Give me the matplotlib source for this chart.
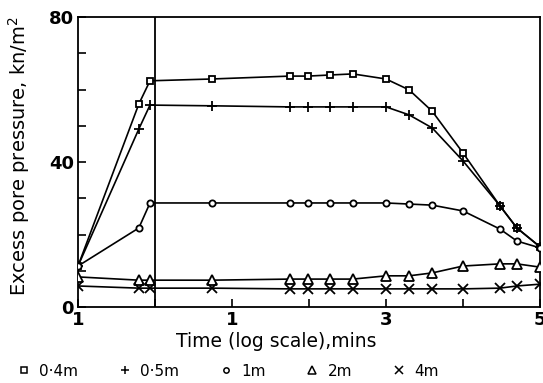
import matplotlib
matplotlib.use("Agg")
import matplotlib.pyplot as plt
from matplotlib.lines import Line2D

# x positions on the drawn time axis (0 = "1", 1 = divider, 2 = "1", 4 = "3", 6 = "5")
t_pos = [0, 0.79, 0.935, 1.74, 2.75, 2.99, 3.27, 3.57, 4.0, 4.30, 4.60, 5.0, 5.48, 5.70, 6.0]

p_04m = [11.3, 56.0, 62.4, 62.9, 63.7, 63.7, 64.0, 64.3, 62.9, 59.9, 54.0, 42.5, 27.9, 21.8, 16.6]
p_05m = [11.3, 49.1, 55.7, 55.5, 55.2, 55.2, 55.2, 55.2, 55.2, 53.0, 49.4, 40.3, 27.9, 21.8, 16.6]
p_1m = [11.3, 21.8, 28.7, 28.7, 28.7, 28.7, 28.7, 28.7, 28.7, 28.4, 28.1, 26.5, 21.5, 18.2, 16.3]
p_2m = [8.3, 7.4, 7.4, 7.4, 7.7, 7.7, 7.7, 7.7, 8.6, 8.6, 9.4, 11.3, 11.9, 11.9, 11.0]
p_4m = [5.8, 5.2, 5.2, 5.2, 5.0, 5.0, 5.0, 5.0, 5.0, 5.0, 5.0, 5.0, 5.2, 5.8, 6.3]

labels = ["0·4m", "0·5m", "1m", "2m", "4m"]
markers = ["s", "+", "o", "^", "x"]
msizes = [5, 7, 4.5, 7, 6.5]
series = [p_04m, p_05m, p_1m, p_2m, p_4m]

xtick_pos = [0, 2, 4, 6]
xtick_lab = ["1", "1", "3", "5"]

fig = plt.figure(figsize=(5.43, 3.83), dpi=100)
ax = fig.add_axes([78 / 543, 1 - 307 / 383, 462 / 543, 290 / 383])

for y, m, ms in zip(series, markers, msizes):
    ax.plot(t_pos, y, color="black", lw=1.2, marker=m, ms=ms,
            mfc="white", mec="black", mew=1.3, zorder=3)

ax.axvline(1, color="black", lw=1.3)

ax.set_xlim(0, 6)
ax.set_ylim(0, 80)
ax.set_xticks(xtick_pos)
ax.set_xticklabels(xtick_lab)
ax.set_xticks([1, 3, 5], minor=True)
ax.set_yticks([0, 40, 80])
ax.set_yticks([10, 20, 30, 50, 60, 70], minor=True)
ax.tick_params(which="both", direction="in", length=6, width=1.2,
               labelsize=13, pad=3)
for lab in ax.get_xticklabels() + ax.get_yticklabels():
    lab.set_fontweight("bold")
for s in ax.spines.values():
    s.set_linewidth(1.3)

ax.set_xlabel("Time (log scale),mins", fontsize=13.5)
ax.xaxis.set_label_coords(0.43, -0.085)
ax.set_ylabel("Excess pore pressure, kn/m$^2$", fontsize=14)
ax.yaxis.set_label_coords(-0.1, 0.52)

handles = [Line2D([], [], ls="none", marker=m, ms=ms * 0.85, mfc="white",
                  mec="black", mew=1.1) for m, ms in zip(markers, msizes)]
fig.legend(handles, labels, loc="lower left", bbox_to_anchor=(0.005, -0.025),
           ncol=5, frameon=False, fontsize=11, handletextpad=0.5,
           columnspacing=2.55, handlelength=1.0)

fig.savefig("out.png", dpi=100)
